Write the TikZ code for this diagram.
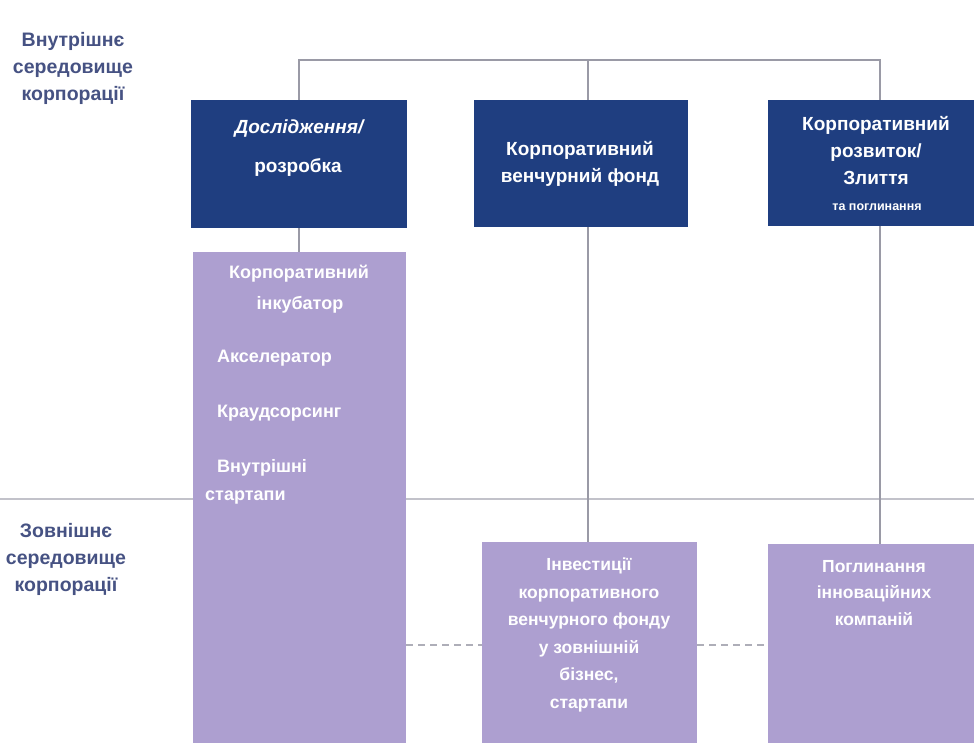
\documentclass[tikz,border=0pt]{standalone}
\usepackage{fontspec}
\setmainfont{Liberation Sans}
\definecolor{navy}{HTML}{1F3E80}
\definecolor{lilac}{HTML}{AD9FD0}
\definecolor{linegray}{HTML}{9A9AA6}
\definecolor{labelblue}{HTML}{465283}
\begin{document}
\begin{tikzpicture}[x=1pt,y=-1pt,
  darkbox/.style={fill=navy, draw=none, anchor=north west, inner sep=0pt, outer sep=0pt},
  lilacbox/.style={fill=lilac, draw=none, anchor=north west, inner sep=0pt, outer sep=0pt},
  link/.style={draw=linegray, line width=1.8pt},
  divider/.style={draw=linegray!60, line width=1.4pt},
  dashlink/.style={draw=linegray!80, line width=1.6pt, dash pattern=on 7pt off 5pt},
  boxtext/.style={text=white, font=\fontsize{19}{27}\selectfont\bfseries, align=center, inner sep=0pt},
  smalltext/.style={text=white, font=\fontsize{12.5}{14}\selectfont\bfseries, align=center, inner sep=0pt},
  listtext/.style={text=white, font=\fontsize{18}{27}\selectfont\bfseries, inner sep=0pt},
  lowtext/.style={text=white, font=\fontsize{17.5}{27.5}\selectfont\bfseries, align=center, inner sep=0pt},
  sidelabel/.style={text=labelblue, font=\fontsize{19.5}{27}\selectfont\bfseries, align=center, inner sep=0pt}]
\useasboundingbox (0,0) rectangle (974,742);
\clip (0,0) rectangle (974,742);
\fill[white] (0,0) rectangle (974,742);

% divider between internal and external environment
\coordinate (divL) at (0,499);
\coordinate (divR) at (974,499);
\draw[divider] (divL) -- (divR);

% side labels
\node[sidelabel] (inlbl) at (73,68) {Внутрішнє\\середовище\\корпорації};
\node[sidelabel] (exlbl) at (66,559) {Зовнішнє\\середовище\\корпорації};

% top dark boxes
\node[darkbox, minimum width=216pt, minimum height=128pt] (rd) at (191,100) {};
\node[darkbox, minimum width=214pt, minimum height=127pt] (cvf) at (474,100) {};
\node[darkbox, minimum width=224pt, minimum height=126pt] (cdev) at (768,100) {};

% bottom lilac boxes
\node[lilacbox, minimum width=213pt, minimum height=495pt] (incub) at (193,252) {};
\node[lilacbox, minimum width=215pt, minimum height=205pt] (invest) at (482,542) {};
\node[lilacbox, minimum width=210pt, minimum height=205pt] (acq) at (768,544) {};

% connector anchors
\coordinate (T) at (0,60);
\coordinate (x2) at (588,0);
\coordinate (x3) at (880,0);

% top bus
\draw[link] (rd.north) -- (rd.north |- T) -- (x3 |- T) -- (x3 |- cdev.north);
\draw[link] (x2 |- T) -- (x2 |- cvf.north);
% vertical links to lower boxes
\draw[link] (rd.south) -- (rd.south |- incub.north);
\draw[link] (x2 |- cvf.south) -- (x2 |- invest.north);
\draw[link] (x3 |- cdev.south) -- (x3 |- acq.north);

% dashed links between lower boxes
\coordinate (dy) at (0,645);
\draw[dashlink] (incub.east |- dy) -- (invest.west |- dy);
\draw[dashlink] (invest.east |- dy) -- (acq.west |- dy);

% texts in dark boxes
\node[boxtext] (rdt1) at (299,129) {\itshape Дослідження/};
\node[boxtext] (rdt2) at (298,167) {розробка};
\node[boxtext] (cvft) at (580,164) {Корпоративний\\венчурний фонд};
\node[boxtext] (cdevt) at (876,151) {Корпоративний\\розвиток/\\Злиття};
\node[smalltext] (cdevs) at (877,207) {та поглинання};

% texts in left lilac box
\node[listtext] (l1) at (299,274) {Корпоративний};
\node[listtext] (l2) at (300,305) {інкубатор};
\node[listtext, anchor=west] (l3) at (217,358) {Акселератор};
\node[listtext, anchor=west] (l4) at (217,413) {Краудсорсинг};
\node[listtext, anchor=west] (l5) at (217,468) {Внутрішні};
\node[listtext, anchor=west] (l6) at (205,498) {стартапи};

% texts in lower boxes
\node[lowtext] (invt) at (589,635) {Інвестиції\\корпоративного\\венчурного фонду\\у зовнішній\\бізнес,\\стартапи};
\node[lowtext, font=\fontsize{17.5}{26.5}\selectfont\bfseries] (acqt) at (874,593) {Поглинання\\інноваційних\\компаній};
\end{tikzpicture}
\end{document}
